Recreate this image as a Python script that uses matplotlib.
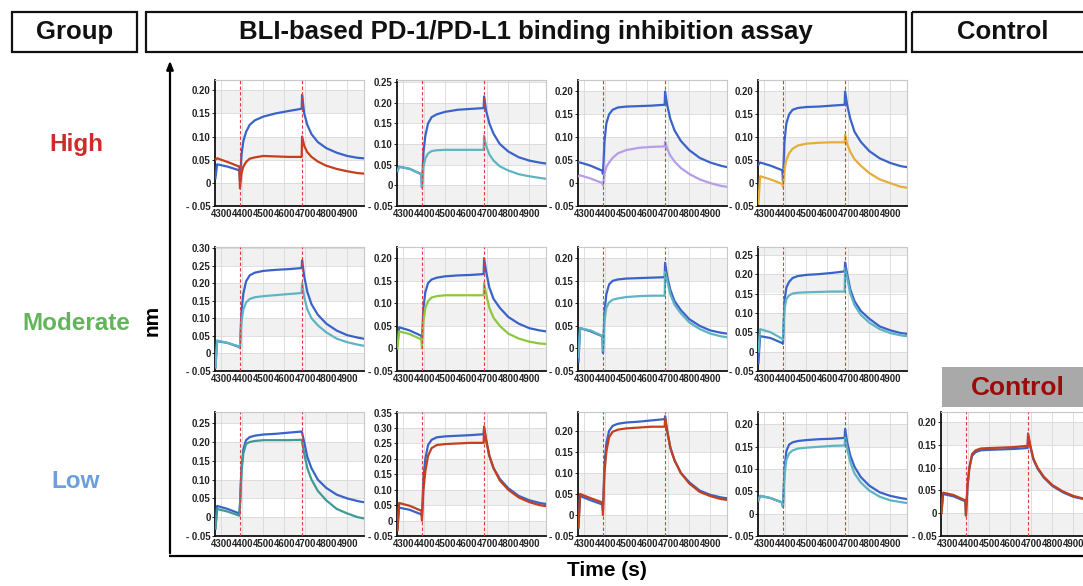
import matplotlib
matplotlib.use('Agg')
import matplotlib.pyplot as plt
from matplotlib.patches import Rectangle

plt.rcParams['font.family'] = ['Liberation Sans', 'DejaVu Sans']

# ---------------- data ----------------
time_s = [4272, 4280, 4330, 4386, 4389, 4396, 4405, 4418, 4435, 4460, 4500, 4560, 4620,
          4683, 4685, 4695, 4710, 4730, 4760, 4800, 4850, 4900, 4950, 4978]
assoc_start = 4387
dissoc_start = 4683
x_ticks = [4300, 4400, 4500, 4600, 4700, 4800, 4900]

groups = ['High', 'Moderate', 'Low']

high1_blue = [0.010, 0.040, 0.035, 0.027, 0.005, 0.060, 0.090, 0.110, 0.125, 0.135, 0.143, 0.150, 0.155,
              0.160, 0.190, 0.150, 0.125, 0.105, 0.088, 0.075, 0.065, 0.058, 0.054, 0.053]
high1_red = [0.050, 0.053, 0.045, 0.035, -0.012, 0.020, 0.035, 0.045, 0.052, 0.055, 0.058, 0.057, 0.056,
             0.056, 0.100, 0.080, 0.066, 0.056, 0.046, 0.037, 0.030, 0.025, 0.021, 0.020]
high2_blue = [0.035, 0.045, 0.040, 0.027, -0.005, 0.080, 0.120, 0.150, 0.165, 0.172, 0.178, 0.183, 0.185,
              0.187, 0.215, 0.180, 0.150, 0.125, 0.100, 0.082, 0.068, 0.060, 0.055, 0.053]
high2_teal = [0.035, 0.045, 0.040, 0.027, -0.005, 0.045, 0.065, 0.077, 0.083, 0.085, 0.086, 0.086, 0.086,
              0.086, 0.120, 0.095, 0.075, 0.060, 0.046, 0.036, 0.027, 0.022, 0.018, 0.016]
high3_blue = [0.045, 0.045, 0.038, 0.027, 0.020, 0.090, 0.130, 0.150, 0.160, 0.165, 0.167, 0.168, 0.169,
              0.171, 0.200, 0.170, 0.140, 0.115, 0.092, 0.072, 0.055, 0.045, 0.038, 0.035]
high3_violet = [0.015, 0.017, 0.010, 0.000, -0.005, 0.020, 0.035, 0.045, 0.055, 0.065, 0.072, 0.077, 0.079,
                0.080, 0.090, 0.075, 0.060, 0.047, 0.033, 0.020, 0.008, 0.000, -0.006, -0.008]
high4_blue = [0.040, 0.045, 0.038, 0.028, 0.005, 0.090, 0.130, 0.150, 0.160, 0.164, 0.166, 0.167, 0.169,
              0.171, 0.200, 0.170, 0.140, 0.112, 0.090, 0.070, 0.054, 0.044, 0.037, 0.035]
high4_gold = [-0.045, 0.015, 0.008, -0.002, -0.008, 0.030, 0.050, 0.065, 0.075, 0.082, 0.086, 0.088, 0.089,
              0.089, 0.105, 0.085, 0.068, 0.052, 0.038, 0.022, 0.008, 0.000, -0.008, -0.010]

mod1_blue = [-0.040, 0.035, 0.030, 0.018, 0.015, 0.120, 0.170, 0.205, 0.222, 0.230, 0.235, 0.238, 0.240,
             0.243, 0.265, 0.220, 0.175, 0.140, 0.110, 0.085, 0.065, 0.052, 0.045, 0.042]
mod1_teal = [-0.040, 0.037, 0.030, 0.020, 0.015, 0.090, 0.125, 0.145, 0.155, 0.160, 0.163, 0.166, 0.169,
             0.172, 0.200, 0.160, 0.125, 0.100, 0.080, 0.060, 0.042, 0.032, 0.025, 0.022]
mod2_blue = [0.010, 0.047, 0.040, 0.028, 0.020, 0.090, 0.125, 0.145, 0.153, 0.157, 0.160, 0.162, 0.163,
             0.165, 0.200, 0.170, 0.135, 0.110, 0.090, 0.070, 0.055, 0.045, 0.040, 0.038]
mod2_green = [0.000, 0.038, 0.032, 0.020, 0.000, 0.060, 0.090, 0.105, 0.113, 0.116, 0.118, 0.118, 0.118,
              0.118, 0.145, 0.120, 0.090, 0.068, 0.050, 0.033, 0.022, 0.015, 0.011, 0.010]
mod3_blue = [-0.030, 0.045, 0.038, 0.027, -0.010, 0.080, 0.120, 0.142, 0.150, 0.153, 0.155, 0.156, 0.157,
             0.158, 0.190, 0.160, 0.130, 0.105, 0.085, 0.065, 0.050, 0.040, 0.035, 0.033]
mod3_teal = [-0.020, 0.045, 0.040, 0.028, -0.005, 0.060, 0.090, 0.102, 0.108, 0.111, 0.114, 0.116, 0.117,
             0.117, 0.170, 0.150, 0.120, 0.097, 0.078, 0.058, 0.043, 0.033, 0.027, 0.025]
mod4_blue = [-0.030, 0.040, 0.035, 0.022, 0.020, 0.130, 0.165, 0.180, 0.190, 0.195, 0.198, 0.200, 0.203,
             0.207, 0.230, 0.200, 0.160, 0.130, 0.105, 0.085, 0.065, 0.055, 0.048, 0.046]
mod4_teal = [0.000, 0.058, 0.050, 0.033, 0.030, 0.110, 0.135, 0.145, 0.150, 0.152, 0.153, 0.154, 0.155,
             0.155, 0.215, 0.190, 0.150, 0.120, 0.095, 0.075, 0.058, 0.048, 0.042, 0.040]

low1_blue = [-0.030, 0.030, 0.022, 0.010, 0.035, 0.130, 0.180, 0.205, 0.213, 0.217, 0.220, 0.222, 0.225,
             0.228, 0.225, 0.200, 0.160, 0.130, 0.100, 0.078, 0.060, 0.050, 0.043, 0.040]
low1_teal = [-0.030, 0.022, 0.015, 0.004, 0.030, 0.120, 0.170, 0.195, 0.200, 0.203, 0.205, 0.205, 0.205,
             0.206, 0.200, 0.170, 0.130, 0.100, 0.070, 0.045, 0.022, 0.010, 0.000, -0.003]
low2_blue = [-0.030, 0.042, 0.035, 0.020, 0.015, 0.140, 0.200, 0.245, 0.262, 0.270, 0.273, 0.275, 0.277,
             0.280, 0.300, 0.260, 0.210, 0.170, 0.135, 0.105, 0.080, 0.066, 0.057, 0.054]
low2_red = [-0.030, 0.057, 0.048, 0.032, 0.000, 0.100, 0.160, 0.210, 0.235, 0.245, 0.248, 0.250, 0.252,
            0.252, 0.305, 0.260, 0.210, 0.170, 0.130, 0.100, 0.075, 0.060, 0.050, 0.047]
low3_blue = [-0.030, 0.045, 0.035, 0.025, 0.010, 0.120, 0.170, 0.200, 0.212, 0.217, 0.220, 0.222, 0.225,
             0.228, 0.235, 0.200, 0.160, 0.130, 0.100, 0.078, 0.058, 0.048, 0.042, 0.040]
low3_red = [-0.030, 0.050, 0.040, 0.030, 0.000, 0.100, 0.150, 0.185, 0.198, 0.203, 0.206, 0.208, 0.210,
            0.210, 0.230, 0.200, 0.160, 0.130, 0.100, 0.075, 0.055, 0.045, 0.038, 0.036]
low4_blue = [0.030, 0.040, 0.035, 0.025, 0.015, 0.100, 0.140, 0.155, 0.160, 0.163, 0.165, 0.167, 0.168,
             0.170, 0.190, 0.160, 0.130, 0.105, 0.082, 0.063, 0.048, 0.040, 0.035, 0.033]
low4_teal = [0.030, 0.040, 0.035, 0.025, 0.015, 0.085, 0.120, 0.135, 0.142, 0.146, 0.148, 0.150, 0.152,
             0.153, 0.170, 0.145, 0.115, 0.090, 0.070, 0.052, 0.038, 0.030, 0.026, 0.024]

control_blue = [0.000, 0.042, 0.037, 0.026, -0.005, 0.058, 0.098, 0.126, 0.134, 0.138, 0.139, 0.140, 0.141,
                0.143, 0.170, 0.147, 0.118, 0.098, 0.078, 0.060, 0.046, 0.036, 0.031, 0.029]
control_red = [0.000, 0.045, 0.040, 0.028, -0.005, 0.060, 0.100, 0.130, 0.138, 0.142, 0.143, 0.144, 0.145,
               0.148, 0.175, 0.150, 0.120, 0.100, 0.080, 0.062, 0.048, 0.038, 0.032, 0.030]

# ---------------- styling ----------------
BLUE = '#3a63c9'
RED = '#c2401c'
TEAL = '#5fb4c3'
VIOLET = '#b59de9'
GOLD = '#e6ad3c'
GREEN = '#8dc63f'
DTEAL = '#3d9a94'

W, H = 1083, 586
fig = plt.figure(figsize=(W / 100, H / 100), dpi=100)

col_left = [215, 397, 578, 758, 941]
row_top = [80, 247, 412]
row_h = [126, 124, 124]
pw = 149

panels = [
    (0, 0, [(high1_blue, BLUE), (high1_red, RED)], 0.222, 0.20),
    (0, 1, [(high2_blue, BLUE), (high2_teal, TEAL)], 0.255, 0.25),
    (0, 2, [(high3_blue, BLUE), (high3_violet, VIOLET)], 0.225, 0.20),
    (0, 3, [(high4_blue, BLUE), (high4_gold, GOLD)], 0.225, 0.20),
    (1, 0, [(mod1_blue, BLUE), (mod1_teal, TEAL)], 0.303, 0.30),
    (1, 1, [(mod2_blue, BLUE), (mod2_green, GREEN)], 0.225, 0.20),
    (1, 2, [(mod3_blue, BLUE), (mod3_teal, TEAL)], 0.225, 0.20),
    (1, 3, [(mod4_blue, BLUE), (mod4_teal, TEAL)], 0.27, 0.25),
    (2, 0, [(low1_blue, BLUE), (low1_teal, DTEAL)], 0.28, 0.25),
    (2, 1, [(low2_blue, BLUE), (low2_red, RED)], 0.352, 0.35),
    (2, 2, [(low3_blue, BLUE), (low3_red, RED)], 0.245, 0.20),
    (2, 3, [(low4_blue, BLUE), (low4_teal, TEAL)], 0.228, 0.20),
    (2, 4, [(control_blue, BLUE), (control_red, RED)], 0.222, 0.20),
]


def ylabel_fmt(v):
    if abs(v) < 1e-9:
        return '0'
    if v < 0:
        return '- %.2f' % abs(v)
    return '%.2f' % v


for r, c, series, ytop, ymaxtick in panels:
    ax = fig.add_axes([col_left[c] / W, 1 - (row_top[r] + row_h[r]) / H, pw / W, row_h[r] / H])
    ax.set_xlim(4270, 4980)
    ax.set_ylim(-0.05, ytop)
    b = -0.05
    k = 0
    while b < ytop:
        if k % 2 == 0:
            ax.axhspan(b, min(b + 0.05, ytop), color='#f1f1f1', zorder=0, lw=0)
        b += 0.05
        k += 1
    n = int(round((ymaxtick + 0.05) / 0.05)) + 1
    yt = [round(-0.05 + 0.05 * i, 2) for i in range(n)]
    ax.set_yticks(yt)
    ax.set_yticklabels([ylabel_fmt(v) for v in yt])
    ax.set_xticks(x_ticks)
    ax.set_xticklabels([str(v) for v in x_ticks])
    ax.grid(True, color='#d9d9d9', lw=0.6, zorder=1)
    ax.set_axisbelow(True)
    for tl in ax.get_xticklabels() + ax.get_yticklabels():
        tl.set_fontweight('bold')
        tl.set_fontsize(6.9)
        tl.set_color('#222222')
    ax.tick_params(axis='both', length=2, width=0.6, pad=1)
    ax.tick_params(axis='x', length=0, pad=2)
    for s in ['top', 'right']:
        ax.spines[s].set_color('#c8c8c8')
        ax.spines[s].set_linewidth(0.8)
    for s in ['left', 'bottom']:
        ax.spines[s].set_color('#111111')
        ax.spines[s].set_linewidth(1.3)
    for vals, col in series:
        ax.plot(time_s, vals, color=col, lw=1.6, zorder=3)
    for xv in (assoc_start, dissoc_start):
        ax.axvline(xv, color='#e0393e', ls=(0, (3, 2)), lw=0.8, zorder=4)

# ---------------- overlay (pixel coordinates) ----------------
ov = fig.add_axes([0, 0, 1, 1], facecolor='none')
ov.set_xlim(0, W)
ov.set_ylim(H, 0)
ov.axis('off')

hdr = [(12, 137, 'Group', 74.5), (146, 906, 'BLI-based PD-1/PD-L1 binding inhibition assay', 526),
       (912, 1095, 'Control', 1003)]
for x0, x1, txt, xc in hdr:
    ov.add_patch(Rectangle((x0, 12), x1 - x0, 40, fill=False, ec='#111111', lw=1.6, clip_on=False))
    ov.text(xc, 32, txt, ha='center', va='center',
            fontsize=18.5, fontweight='bold', color='#111111')

ov.text(76, 145, groups[0], color='#d02b2b', fontsize=17.5, fontweight='bold', ha='center', va='center')
ov.text(76, 323, groups[1], color='#62b55a', fontsize=17.5, fontweight='bold', ha='center', va='center')
ov.text(76, 481, groups[2], color='#6d9fe0', fontsize=17.5, fontweight='bold', ha='center', va='center')

ov.text(152, 320, 'nm', rotation=90, fontsize=15, fontweight='bold', ha='center', va='center')
ov.text(607, 571, 'Time (s)', fontsize=15, fontweight='bold', ha='center', va='center')

# axes arrows
ov.annotate('', xy=(170, 58), xytext=(170, 556),
            arrowprops=dict(arrowstyle='-|>,head_length=0.5,head_width=0.2', color='black', lw=1.6))
ov.plot([169, 1083], [556, 556], color='black', lw=1.6, solid_capstyle='butt')

# control banner
ov.add_patch(Rectangle((942, 367), 160, 40, color='#a9a9a9', lw=0, clip_on=False))
ov.text(1018, 388, 'Control', color='#9c0a0a', fontsize=19, fontweight='bold', ha='center', va='center')

fig.savefig('out.png', dpi=100)
